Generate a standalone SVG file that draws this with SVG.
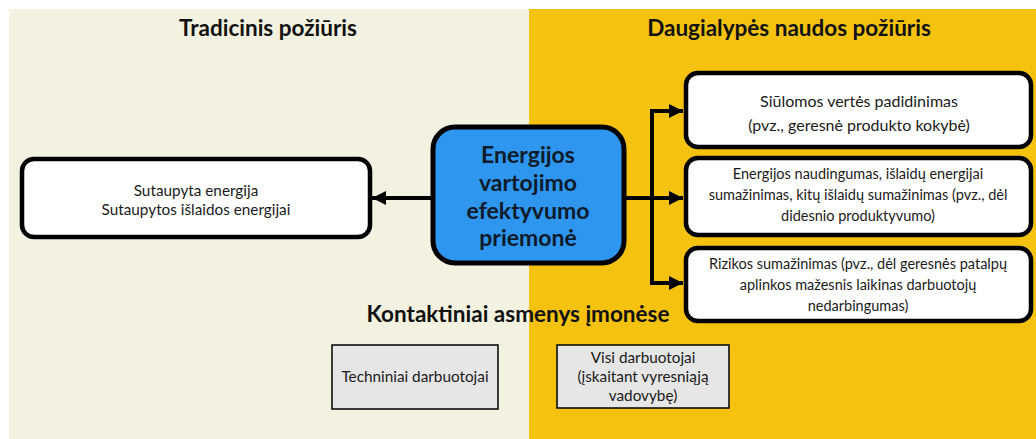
<svg xmlns="http://www.w3.org/2000/svg" width="1036" height="439" viewBox="0 0 1036 439">
<style>
.t{font-family:Lato,"Liberation Sans",sans-serif;font-size:14.5px;fill:#1a1a1a;text-anchor:middle}
.t2{font-family:Lato,"Liberation Sans",sans-serif;font-size:15.3px;fill:#1a1a1a;text-anchor:middle}
.t3{font-family:Lato,"Liberation Sans",sans-serif;font-size:16px;fill:#1a1a1a;text-anchor:middle}
.h{font-family:Lato,"Liberation Sans",sans-serif;font-size:22.5px;font-weight:bold;fill:#111;text-anchor:middle}
.c{font-family:Lato,"Liberation Sans",sans-serif;font-size:23px;font-weight:bold;fill:#0d1b2a;text-anchor:middle}
.box{fill:#fff;stroke:#000;stroke-width:4.5}
.grey{fill:#e6e6e6;stroke:#000;stroke-width:1.5}
.ln{fill:none;stroke:#000;stroke-width:4}
</style>
<defs>
<marker id="ah" markerUnits="userSpaceOnUse" markerWidth="16" markerHeight="16" refX="14" refY="7" orient="auto">
<path d="M0,0 L14,7 L0,14 Z" fill="#000"/>
</marker>
</defs>
<rect x="0" y="0" width="1036" height="439" fill="#fff"/>
<rect x="9" y="9" width="520" height="430" fill="#f3f2e0"/>
<rect x="529" y="9" width="507" height="430" fill="#f5c30f"/>
<text class="h" x="268" y="36">Tradicinis požiūris</text>
<text class="h" x="789" y="36">Daugialypės naudos požiūris</text>
<text class="h" x="518" y="322">Kontaktiniai asmenys įmonėse</text>
<g id="connectors">
<line class="ln" x1="433" y1="198" x2="372" y2="198" marker-end="url(#ah)"/>
<line class="ln" x1="624" y1="198" x2="683" y2="198" marker-end="url(#ah)"/>
<polyline class="ln" points="683,111 652,111 652,283 683,283" marker-end="url(#ah)"/>
<path class="ln" d="M652,111 L683,111" marker-end="url(#ah)"/>
</g>
<g id="left">
<rect class="box" x="22" y="159" width="348" height="78" rx="12"/>
<text class="t2" x="196" y="196">Sutaupyta energija</text>
<text class="t2" x="196" y="215">Sutaupytos išlaidos energijai</text>
</g>
<g id="center">
<rect x="433" y="127" width="191" height="136" rx="22" fill="#2e96ee" stroke="#000" stroke-width="5"/>
<text class="c" x="528" y="163">Energijos</text>
<text class="c" x="528" y="191">vartojimo</text>
<text class="c" x="528" y="219">efektyvumo</text>
<text class="c" x="528" y="246">priemonė</text>
</g>
<g id="r1">
<rect class="box" x="686" y="73" width="345" height="74" rx="12"/>
<text class="t3" x="859" y="107">Siūlomos vertės padidinimas</text>
<text class="t3" x="859" y="131">(pvz., geresnė produkto kokybė)</text>
</g>
<g id="r2">
<rect class="box" x="686" y="158" width="345" height="77" rx="12"/>
<text class="t" x="858" y="179">Energijos naudingumas, išlaidų energijai</text>
<text class="t" x="858" y="200">sumažinimas, kitų išlaidų sumažinimas (pvz., dėl</text>
<text class="t" x="858" y="221">didesnio produktyvumo)</text>
</g>
<g id="r3">
<rect class="box" x="686" y="248" width="345" height="73" rx="12"/>
<text class="t" x="858" y="269">Rizikos sumažinimas (pvz., dėl geresnės patalpų</text>
<text class="t" x="858" y="290">aplinkos mažesnis laikinas darbuotojų</text>
<text class="t" x="858" y="311">nedarbingumas)</text>
</g>
<g id="tech">
<rect class="grey" x="332" y="345" width="166" height="64"/>
<text class="t2" x="415" y="382">Techniniai darbuotojai</text>
</g>
<g id="visi">
<rect class="grey" x="557" y="345" width="172" height="63"/>
<text class="t2" x="643" y="363">Visi darbuotojai</text>
<text class="t2" x="643" y="382">(įskaitant vyresniąją</text>
<text class="t2" x="643" y="401">vadovybę)</text>
</g>
</svg>
